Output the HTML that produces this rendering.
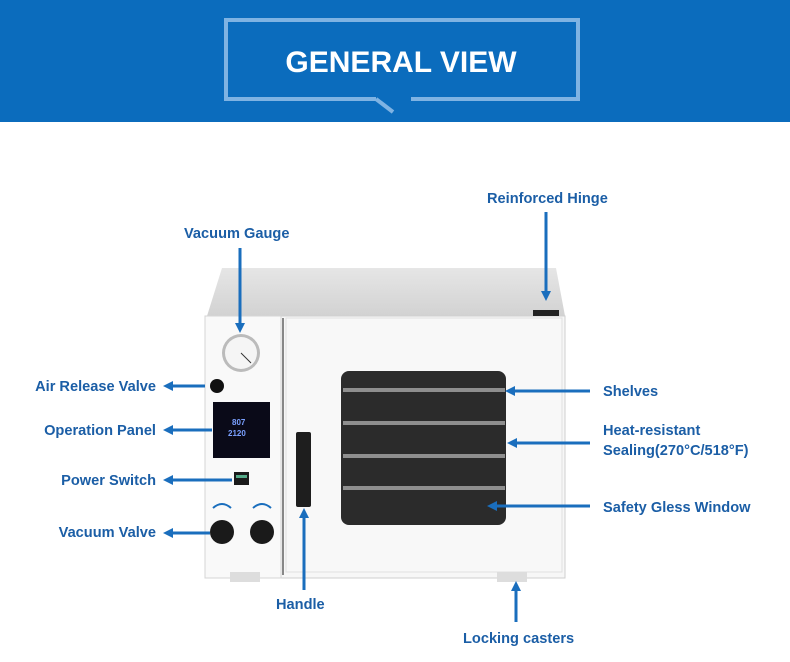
<!DOCTYPE html>
<html><head><meta charset="utf-8"><style>
html,body{margin:0;padding:0;background:#fff;width:790px;height:662px;overflow:hidden}
svg text{font-family:"Liberation Sans",sans-serif;font-weight:bold;fill:#1b5ea6;font-size:14.6px}
</style></head><body>
<svg width="790" height="662" xmlns="http://www.w3.org/2000/svg">
<defs>
<marker id="a" markerWidth="10" markerHeight="10" refX="7" refY="5" orient="auto" markerUnits="userSpaceOnUse"><path d="M0,0 L10,5 L0,10 z" fill="#1a6ebd"/></marker>
<linearGradient id="top" x1="0" y1="0" x2="0" y2="1"><stop offset="0" stop-color="#e6e6e6"/><stop offset="1" stop-color="#d2d2d2"/></linearGradient>
</defs>
<rect x="0" y="0" width="790" height="122" fill="#0b6cbd"/>
<path d="M376,99 L226,99 L226,20 L578,20 L578,99 L411,99" fill="none" stroke="#7fb3e3" stroke-width="4"/>
<path d="M376,99 L393,112" stroke="#7fb3e3" stroke-width="4"/>
<text x="401" y="72" text-anchor="middle" style="font-size:30px;fill:#fff">GENERAL VIEW</text>

<!-- oven -->
<path d="M222,268 L556,268 L565,316 L207,316 Z" fill="url(#top)"/>
<rect x="205" y="316" width="360" height="262" fill="#f7f7f7" stroke="#cfcfcf"/>
<rect x="205" y="316" width="76" height="262" fill="#f9f9f9" stroke="#d5d5d5"/>
<line x1="283" y1="318" x2="283" y2="575" stroke="#888" stroke-width="2"/>
<rect x="286" y="318" width="276" height="254" fill="#f8f8f8" stroke="#e0e0e0"/>
<rect x="533" y="310" width="26" height="6" fill="#222"/>
<rect x="341" y="371" width="165" height="154" rx="8" fill="#2b2b2b"/>
<g fill="#8e8e8e"><rect x="343" y="388" width="162" height="4"/><rect x="343" y="421" width="162" height="4"/><rect x="343" y="454" width="162" height="4"/><rect x="343" y="486" width="162" height="4"/></g>
<rect x="296" y="432" width="15" height="75" rx="2" fill="#1e1e1e"/>
<circle cx="241" cy="353" r="19" fill="#bbb"/><circle cx="241" cy="353" r="16" fill="#f5f5f5"/>
<line x1="241" y1="353" x2="251" y2="363" stroke="#333"/>
<circle cx="217" cy="386" r="7" fill="#111"/>
<rect x="213" y="402" width="57" height="56" fill="#0a0a18"/>
<text x="232" y="425" style="font-size:8px;fill:#7aa0ff">807</text><text x="228" y="436" style="font-size:8px;fill:#7aa0ff">2120</text>
<rect x="234" y="472" width="15" height="13" fill="#1a1a1a"/><rect x="236" y="475" width="11" height="3" fill="#5a8"/>
<circle cx="222" cy="532" r="12" fill="#1a1a1a"/><circle cx="262" cy="532" r="12" fill="#1a1a1a"/>
<path d="M213,508 Q222,500 231,508 M253,508 Q262,500 271,508" stroke="#1a6ebd" stroke-width="2" fill="none"/>
<rect x="230" y="572" width="30" height="10" fill="#ddd"/><rect x="497" y="572" width="30" height="10" fill="#ddd"/>

<g stroke="#1a6ebd" stroke-width="3" fill="none" marker-end="url(#a)">
<line x1="240" y1="248" x2="240" y2="330"/>
<line x1="546" y1="212" x2="546" y2="298"/>
<line x1="205" y1="386" x2="166" y2="386"/>
<line x1="212" y1="430" x2="166" y2="430"/>
<line x1="232" y1="480" x2="166" y2="480"/>
<line x1="210" y1="533" x2="166" y2="533"/>
<line x1="304" y1="590" x2="304" y2="511"/>
<line x1="516" y1="622" x2="516" y2="584"/>
<line x1="590" y1="391" x2="508" y2="391"/>
<line x1="590" y1="443" x2="510" y2="443"/>
<line x1="590" y1="506" x2="490" y2="506"/>
</g>
<text x="184" y="238">Vacuum Gauge</text>
<text x="487" y="203">Reinforced Hinge</text>
<text x="156" y="391" text-anchor="end">Air Release Valve</text>
<text x="156" y="435" text-anchor="end">Operation Panel</text>
<text x="156" y="485" text-anchor="end">Power Switch</text>
<text x="156" y="537" text-anchor="end">Vacuum Valve</text>
<text x="276" y="609">Handle</text>
<text x="463" y="643">Locking casters</text>
<text x="603" y="396">Shelves</text>
<text x="603" y="435">Heat-resistant</text>
<text x="603" y="455">Sealing(270°C/518°F)</text>
<text x="603" y="512">Safety Gless Window</text>
</svg>
</body></html>
